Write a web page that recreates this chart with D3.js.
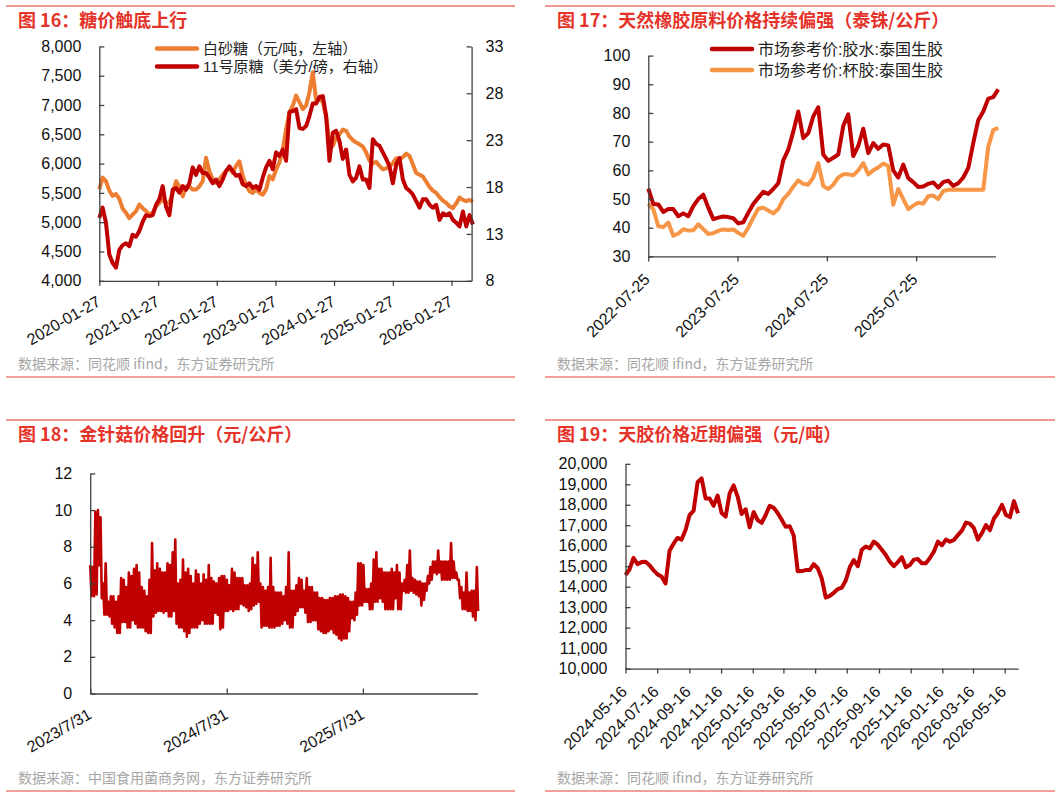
<!DOCTYPE html>
<meta charset="utf-8">
<style>
body { margin: 0; background: #fff; }
.title { font-family: "Noto Sans CJK SC", sans-serif; font-weight: bold; font-size: 18px; fill: #e5332a; }
.source { font-family: "Noto Sans CJK SC", sans-serif; font-size: 14px; fill: #a6a6a6; }
.legend { font-family: "Liberation Sans", "Noto Sans CJK SC", sans-serif; fill: #222; }
.axis path, .axis line { stroke: #404040; stroke-width: 1.3px; }
.xlab { font-family: "Liberation Sans", Arial, sans-serif; font-size: 16px; fill: #111; }
</style>
<svg width="1061" height="796"></svg>
<script src="https://d3js.org/d3.v7.min.js"></script>
<script>

// ---------- 图16 糖价 ----------
var sugarStart = "2020-01-27", sugarStepDays = 20.76;
var sugarWhite = [
  5560,5760,5700,5540,5450,5480,5400,5230,5160,5070,
  5130,5190,5300,5240,5190,5130,5160,5270,5330,5390,
  5330,5330,5500,5700,5610,5440,5610,5610,5560,5560,
  5610,5700,6100,5870,5730,5670,5730,5810,5870,5930,
  5840,5960,6040,5790,5640,5530,5500,5560,5500,5470,
  5560,5790,5730,5900,6020,6240,6590,6870,6990,7160,
  7050,6930,6990,7220,7560,7080,7100,7050,6800,6350,
  6300,6440,6500,6580,6560,6460,6400,6360,6330,6290,
  6190,6050,6000,6030,5960,5900,5920,5950,6010,6090,
  6080,6110,6170,6130,5990,5840,5810,5780,5690,5600,
  5540,5500,5430,5370,5330,5270,5240,5320,5420,5380,
  5360,5380,5350];
var sugarRaw = [
  14.7,15.8,14.2,10.8,9.9,9.4,11.3,11.8,12.0,11.7,
  12.9,12.7,13.3,14.3,15.0,14.9,15.0,16.1,16.7,18.1,
  15.9,15.0,17.7,17.9,17.4,18.1,17.7,18.4,20.1,19.3,
  20.2,19.5,19.5,19.0,18.4,18.8,18.1,18.8,19.7,20.2,
  19.7,19.2,19.3,18.3,18.1,18.4,17.9,18.1,17.7,19.0,
  20.1,20.8,19.9,21.7,21.3,22.0,20.8,26.0,26.1,26.3,
  24.3,24.2,24.5,25.6,26.9,26.9,27.6,27.7,25.6,20.8,
  23.8,24.0,22.9,21.0,22.0,19.3,18.6,19.0,20.2,18.8,
  18.8,17.9,23.1,22.6,22.4,21.7,21.0,20.2,18.4,20.4,
  21.1,18.8,17.9,17.6,17.2,16.5,15.8,16.7,16.7,16.1,
  15.8,16.1,14.5,15.2,15.0,15.2,14.5,14.2,13.8,15.4,
  13.8,15.0,14.0];
var sugarXTicks = ["2020-01-27","2021-01-27","2022-01-27","2023-01-27","2024-01-27","2025-01-27","2026-01-27"];
var sugarLeftTicks = [4000,4500,5000,5500,6000,6500,7000,7500,8000];
var sugarRightTicks = [8,13,18,23,28,33];
var sugarNames = ["白砂糖（元/吨，左轴）", "11号原糖（美分/磅，右轴）"];

// ---------- 图17 泰国生胶 ----------
var rubberStart = "2022-07-25", rubberStepDays = 20.46;
var rubberLatex = [
  53.6,48.3,48.1,45.5,46.5,46.5,44.0,45.0,44.0,47.5,
  50.0,51.5,47.0,43.0,43.5,43.9,43.7,43.3,41.5,41.9,
  45.2,48.3,50.4,52.5,51.8,53.5,55.5,63.5,67.2,73.5,
  80.5,71.2,73.0,78.8,82.0,65.5,63.3,64.4,65.5,75.5,
  79.5,65.0,68.5,74.5,66.0,69.5,67.5,69.0,68.7,60.0,
  57.5,62.0,57.3,55.9,54.2,54.4,55.3,55.8,54.0,55.9,
  56.4,54.6,55.5,57.5,60.8,69.5,77.5,80.5,85.0,85.5,
  88.2];
var rubberCup = [
  48.3,46.5,40.5,40.2,41.8,37.2,38.0,39.5,39.0,39.1,
  41.2,39.5,37.8,38.1,38.9,39.4,39.2,39.4,38.2,37.2,
  40.0,43.5,46.6,47.0,46.0,45.0,46.5,50.0,51.8,54.3,
  56.5,55.3,55.0,57.5,62.5,54.5,53.5,55.0,57.5,58.6,
  58.6,58.3,60.0,62.5,58.6,60.0,61.0,62.4,61.5,48.0,
  53.5,50.0,46.5,47.7,48.7,48.4,51.0,51.2,50.0,52.8,
  53.2,53.2,53.2,53.2,53.2,53.2,53.2,53.2,68.2,74.0,
  74.8];
var rubberXTicks = ["2022-07-25","2023-07-25","2024-07-25","2025-07-25"];
var rubberYTicks = [30,40,50,60,70,80,90,100];
var rubberNames = ["市场参考价:胶水:泰国生胶", "市场参考价:杯胶:泰国生胶"];

// ---------- 图18 金针菇 (weekly high / low readings) ----------
var enokiStart = "2023-07-31", enokiStepDays = 6.91;
var enokiHigh = [
  7.0,6.9,9.9,10.0,9.6,6.0,7.1,5.0,5.3,5.3,
  5.0,5.3,6.3,6.2,5.8,6.6,6.4,6.8,7.0,6.6,
  5.8,5.6,5.3,6.2,8.2,6.7,7.1,6.8,6.6,6.6,
  7.1,7.0,7.7,8.4,6.0,6.2,7.3,6.6,6.8,6.4,
  6.0,6.7,6.5,6.0,6.5,6.2,7.0,6.3,6.1,6.0,
  6.3,6.4,6.4,6.2,5.9,6.8,6.6,6.3,6.3,6.3,
  5.9,5.9,6.0,7.4,7.0,7.7,6.0,5.8,5.6,5.8,
  7.4,5.8,5.5,5.5,5.5,5.3,5.8,7.7,5.6,5.6,
  5.9,6.3,6.2,5.6,6.3,5.8,5.8,5.5,5.5,5.2,
  5.2,5.1,5.1,5.2,5.2,5.3,5.3,5.4,5.4,5.3,
  5.2,5.0,5.0,5.5,7.1,7.1,7.0,5.7,5.7,6.0,
  7.3,7.7,6.8,6.8,6.6,6.6,6.6,6.8,6.6,7.0,
  6.6,6.0,6.2,7.0,7.8,6.3,6.2,6.1,6.1,6.0,
  6.0,6.4,6.9,7.2,7.2,7.8,7.2,7.2,7.2,7.2,
  8.2,7.2,6.6,6.2,5.8,5.5,6.6,5.5,5.6,5.6,
  6.9];
var enokiLow = [
  5.3,5.3,5.4,7.0,5.2,4.3,4.3,4.2,3.8,3.6,
  3.3,3.3,3.9,3.9,3.6,3.6,4.0,3.8,3.6,3.6,
  3.6,3.4,3.3,3.3,4.2,4.4,4.5,4.5,4.4,4.5,
  4.2,4.2,4.5,3.8,3.6,3.6,3.4,3.1,3.3,3.6,
  3.6,3.6,3.8,4.0,3.8,3.8,3.8,3.8,4.4,4.3,
  3.5,3.6,4.5,4.5,4.6,4.5,4.6,4.6,4.9,4.8,
  4.7,4.5,4.6,4.8,4.9,5.0,3.6,3.7,3.7,3.6,
  3.6,3.6,3.7,3.7,3.8,4.0,3.8,3.6,3.6,4.3,
  4.5,4.7,4.7,4.4,3.9,3.9,4.0,4.0,3.5,3.4,
  3.3,3.3,3.4,3.5,3.3,3.2,3.0,2.9,3.0,3.0,
  3.4,4.1,4.0,4.3,4.8,4.8,5.0,5.0,4.6,4.6,
  5.0,5.0,5.2,5.0,4.6,4.6,4.6,4.6,5.2,4.6,
  4.6,5.6,5.5,5.5,5.6,5.5,5.4,5.3,4.8,5.1,
  5.6,6.0,6.2,6.6,6.5,6.6,6.2,6.2,6.2,6.2,
  6.3,6.3,6.2,5.2,4.6,4.6,4.5,4.5,4.2,4.0,
  4.5];
var enokiXTicks = ["2023-07-31","2024-07-31","2025-07-31"];
var enokiYTicks = [0,2,4,6,8,10,12];

// ---------- 图19 天胶 ----------
var tjStart = "2024-05-16", tjStepDays = 7.71;
var tianjiao = [
  14570,14850,15400,15100,15200,15220,15050,14800,14600,14500,
  14150,15750,16100,16380,16300,16770,17500,17700,19100,19290,
  18310,18310,17950,18450,17600,17420,18550,18950,18400,17550,
  17780,16900,17650,17250,17120,17500,17950,17850,17600,17270,
  16930,16950,16500,14750,14760,14810,14810,15100,14900,14400,
  13470,13550,13700,13880,13950,14300,14950,15300,15000,15800,
  15960,15870,16200,16050,15800,15550,15220,15000,15200,15440,
  14950,15060,15320,15350,15140,15140,15400,15710,16200,16020,
  16300,16200,16280,16520,16740,17130,17080,16860,16300,16620,
  17010,16760,17330,17600,18000,17500,17400,18180,17580];
var tjXTicks = ["2024-05-16","2024-07-16","2024-09-16","2024-11-16","2025-01-16","2025-03-16",
  "2025-05-16","2025-07-16","2025-09-16","2025-11-16","2026-01-16","2026-03-16","2026-05-16"];
var tjYTicks = [10000,11000,12000,13000,14000,15000,16000,17000,18000,19000,20000];

var svg = d3.select("svg");
var parseDate = d3.timeParse("%Y-%m-%d");
var RED = "#c00000";

function series(start, stepDays, values) {
  var t0 = parseDate(start).getTime();
  return values.map(function(v, i) {
    return { date: new Date(t0 + i * stepDays * 864e5), v: v };
  });
}

function frame(x0, x1, top, titleY, sourceY, bottom, title, source) {
  svg.append("line").attr("x1", x0).attr("x2", x1).attr("y1", top).attr("y2", top)
    .attr("stroke", "#e5332a").attr("stroke-width", 1.2);
  svg.append("text").attr("class", "title").attr("x", x0 + 12).attr("y", titleY).text(title);
  svg.append("text").attr("class", "source").attr("x", x0 + 12).attr("y", sourceY).text(source);
  svg.append("line").attr("x1", x0).attr("x2", x1).attr("y1", bottom).attr("y2", bottom)
    .attr("stroke", "#ef7f77").attr("stroke-width", 1.5);
}

function yAxis(scale, x, ticks, fmt, right) {
  var axis = (right ? d3.axisRight(scale) : d3.axisLeft(scale))
    .tickValues(ticks).tickFormat(fmt)
    .tickSizeInner(-5).tickSizeOuter(0).tickPadding(right ? 14 : 18);
  svg.append("g").attr("class", "axis")
    .attr("transform", "translate(" + x + ",0)")
    .call(axis)
    .attr("font-family", "'Liberation Sans', Arial, sans-serif")
    .attr("font-size", 16)
    .selectAll("text").attr("fill", "#111");
}

function xAxis(scale, y, ticks, fmt, tickLen, angle) {
  var g = svg.append("g").attr("class", "axis")
    .attr("transform", "translate(0," + y + ")")
    .call(d3.axisBottom(scale).tickValues(ticks.map(parseDate))
      .tickSizeInner(tickLen).tickSizeOuter(0));
  g.selectAll(".tick text").remove();
  g.selectAll(".tick").append("text")
    .attr("class", "xlab")
    .attr("text-anchor", "end")
    .attr("transform", "translate(2,24) rotate(" + angle + ")")
    .text(function(d) { return fmt(d); });
}

function drawLine(data, x, y, color, width) {
  svg.append("path")
    .datum(data)
    .attr("fill", "none")
    .attr("stroke", color)
    .attr("stroke-width", width)
    .attr("stroke-linejoin", "round")
    .attr("d", d3.line().x(function(d) { return x(d.date); }).y(function(d) { return y(d.v); }));
}

function legendItem(x, y, color, label, size) {
  svg.append("line").attr("x1", x).attr("x2", x + 40).attr("y1", y).attr("y2", y)
    .attr("stroke", color).attr("stroke-width", 4.5).attr("stroke-linecap", "round");
  svg.append("text").attr("class", "legend").attr("font-size", size)
    .attr("x", x + 46).attr("y", y + 5.5).text(label);
}

var dash = d3.timeFormat("%Y-%m-%d");
var comma = d3.format(",");

// ----- panel 1 -----
frame(6, 515, 6, 27, 369, 377, "图 16：糖价触底上行", "数据来源：同花顺 ifind，东方证券研究所");
var x1 = d3.scaleTime().domain([parseDate("2020-01-27"), parseDate("2026-06-01")]).range([99.3, 471.6]);
var y1L = d3.scaleLinear().domain([4000, 8000]).range([280.8, 46.4]);
var y1R = d3.scaleLinear().domain([8, 33]).range([280.8, 46.4]);
drawLine(series(sugarStart, sugarStepDays, sugarWhite), x1, y1L, "#ed7d31", 4);
drawLine(series(sugarStart, sugarStepDays, sugarRaw), x1, y1R, RED, 4);
yAxis(y1L, 99.3, sugarLeftTicks, comma, false);
yAxis(y1R, 471.6, sugarRightTicks, d3.format("d"), true);
xAxis(x1, 280.8, sugarXTicks, dash, 5, -30);
legendItem(157, 48.5, "#ed7d31", sugarNames[0], 15);
legendItem(157, 66.5, RED, sugarNames[1], 15);

// ----- panel 2 -----
frame(545, 1055, 6, 27, 369, 377, "图 17：天然橡胶原料价格持续偏强（泰铢/公斤）", "数据来源：同花顺 ifind，东方证券研究所");
var x2 = d3.scaleTime().domain([parseDate("2022-07-25"), parseDate("2026-06-15")]).range([648.3, 995.5]);
var y2 = d3.scaleLinear().domain([30, 100]).range([256.4, 55.6]);
drawLine(series(rubberStart, rubberStepDays, rubberCup), x2, y2, "#f79646", 4);
drawLine(series(rubberStart, rubberStepDays, rubberLatex), x2, y2, RED, 4);
yAxis(y2, 648.3, rubberYTicks, d3.format("d"), false);
xAxis(x2, 256.4, rubberXTicks, dash, 5, -45);
legendItem(712, 49, RED, rubberNames[0], 16);
legendItem(712, 70, "#f79646", rubberNames[1], 16);

// ----- panel 3 -----
frame(6, 515, 420, 441, 783, 791, "图 18：金针菇价格回升（元/公斤）", "数据来源：中国食用菌商务网，东方证券研究所");
var x3 = d3.scaleTime().domain([parseDate("2023-07-31"), parseDate("2026-06-03")]).range([90.2, 477.4]);
var y3 = d3.scaleLinear().domain([0, 12]).range([693.5, 473.4]);
// high and low of each week, alternated half a week apart
var enokiZig = d3.merge(enokiHigh.map(function(h, i) { return [h, enokiLow[i]]; }));
drawLine(series(enokiStart, enokiStepDays / 2, enokiZig), x3, y3, RED, 2.6);
yAxis(y3, 90.2, enokiYTicks, d3.format("d"), false);
xAxis(x3, 693.5, enokiXTicks, d3.timeFormat("%Y/%-m/%-d"), -5, -30);

// ----- panel 4 -----
frame(545, 1055, 420, 441, 783, 791, "图 19：天胶价格近期偏强（元/吨）", "数据来源：同花顺 ifind，东方证券研究所");
var x4 = d3.scaleTime().domain([parseDate("2024-05-16"), parseDate("2026-06-11")]).range([625.5, 1018.2]);
var y4 = d3.scaleLinear().domain([10000, 20000]).range([668.6, 463.8]);
drawLine(series(tjStart, tjStepDays, tianjiao), x4, y4, RED, 4);
yAxis(y4, 625.5, tjYTicks, comma, false);
xAxis(x4, 668.6, tjXTicks, dash, 5, -45);

</script>
